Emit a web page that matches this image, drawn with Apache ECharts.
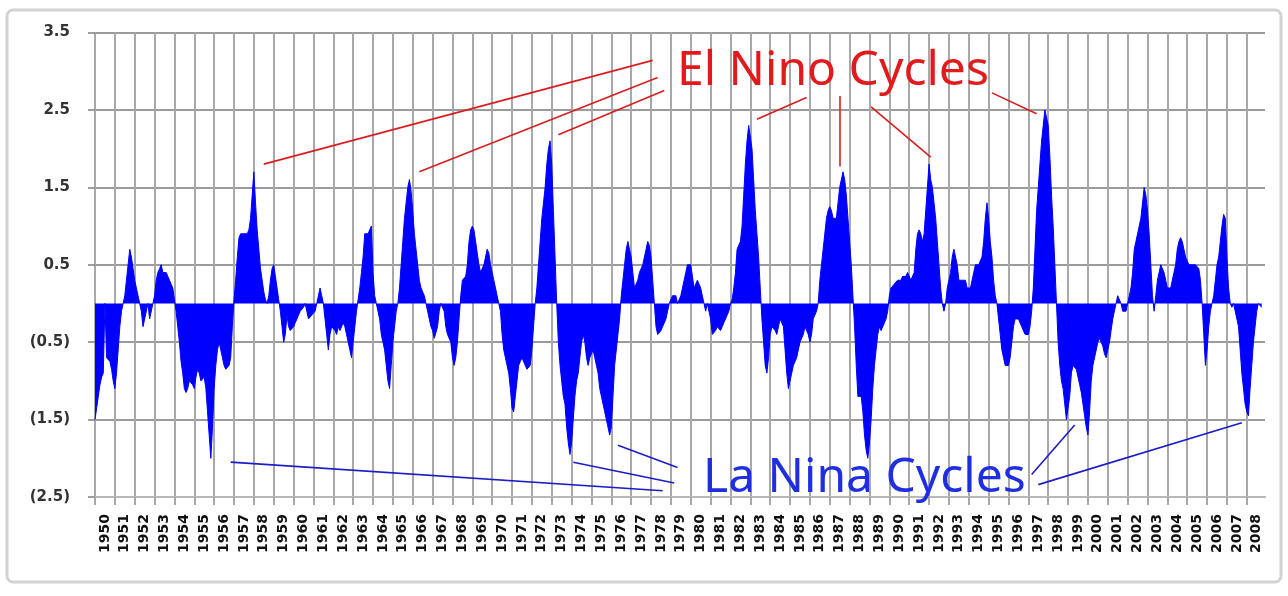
<!DOCTYPE html>
<html>
<head>
<meta charset="utf-8">
<script src="https://cdn.jsdelivr.net/npm/echarts@6/dist/echarts.min.js"></script>
<style>
html,body{margin:0;padding:0;background:#fff;}
#chart{width:1288px;height:596px;}
</style>
</head>
<body>
<div id="chart"></div>
<script>
// Monthly index values (one row per year, Jan..Dec)
const oni1950s = [
 -1.5,-1.35,-1.2,-1.05,-0.95,-0.9,0,-0.7,-0.7,-0.75,-0.85,-1.0,
 -1.1,-0.9,-0.6,-0.3,-0.1,0.0,0.1,0.3,0.5,0.7,0.6,0.45,
 0.3,0.2,0.1,0.0,-0.1,-0.3,-0.3,-0.1,0.0,-0.2,-0.2,0.0,
 0.1,0.3,0.4,0.45,0.5,0.4,0.4,0.4,0.4,0.3,0.3,0.2,
 0.05,-0.1,-0.3,-0.5,-0.75,-0.9,-1.1,-1.15,-1.1,-1.0,-1.0,-1.05,
 -1.1,-0.95,-0.85,-0.9,-1.0,-1.0,-0.95,-1.1,-1.4,-1.7,-2.0,-1.6,
 -1.1,-0.8,-0.6,-0.5,-0.6,-0.7,-0.8,-0.85,-0.85,-0.8,-0.7,-0.3,
 0.05,0.3,0.6,0.85,0.9,0.9,0.9,0.9,0.9,0.95,1.1,1.4,
 1.7,1.3,0.95,0.7,0.45,0.3,0.15,0.05,0.0,0.1,0.3,0.45,
 0.5,0.35,0.2,0.05,-0.1,-0.3,-0.5,-0.4,-0.15,-0.3,-0.35,-0.35
];
const oni1960s = [
 -0.3,-0.25,-0.2,-0.15,-0.1,-0.1,-0.05,0.0,-0.1,-0.2,-0.2,-0.15,
 -0.15,-0.1,0.0,0.1,0.2,0.1,0.0,-0.2,-0.4,-0.6,-0.4,-0.3,
 -0.3,-0.35,-0.4,-0.3,-0.35,-0.3,-0.25,-0.3,-0.4,-0.5,-0.6,-0.7,
 -0.5,-0.3,-0.1,0.05,0.2,0.4,0.6,0.9,0.9,0.9,0.95,1.0,
 0.4,0.1,0.0,-0.1,-0.2,-0.4,-0.5,-0.6,-0.8,-1.0,-1.1,-0.8,
 -0.5,-0.3,-0.1,0.0,0.2,0.5,0.8,1.1,1.3,1.5,1.6,1.45,
 1.2,0.9,0.7,0.5,0.3,0.2,0.2,0.1,0.0,-0.1,-0.2,-0.3,
 -0.35,-0.45,-0.45,-0.3,-0.1,0.0,0.0,-0.1,-0.3,-0.4,-0.4,-0.5,
 -0.7,-0.8,-0.7,-0.5,-0.2,0.1,0.3,0.3,0.35,0.5,0.8,0.95,
 1.0,0.95,0.8,0.65,0.5,0.4,0.4,0.5,0.6,0.7,0.65,0.5
];
const oni1970s = [
 0.4,0.3,0.2,0.1,0.0,-0.1,-0.4,-0.6,-0.7,-0.8,-0.9,-1.1,
 -1.35,-1.4,-1.2,-1.0,-0.8,-0.75,-0.7,-0.7,-0.8,-0.85,-0.85,-0.8,
 -0.6,-0.3,0.0,0.2,0.5,0.8,1.1,1.3,1.5,1.8,2.0,2.1,
 1.8,1.2,0.6,0.0,-0.5,-0.8,-1.0,-1.2,-1.3,-1.6,-1.8,-1.95,
 -1.8,-1.5,-1.2,-1.0,-0.9,-0.7,-0.5,-0.4,-0.5,-0.7,-0.8,-0.7,
 -0.65,-0.6,-0.7,-0.8,-0.9,-1.1,-1.2,-1.3,-1.4,-1.5,-1.6,-1.7,
 -1.6,-1.2,-0.8,-0.6,-0.4,-0.2,0.1,0.3,0.5,0.7,0.8,0.7,
 0.6,0.4,0.2,0.2,0.3,0.4,0.4,0.5,0.6,0.7,0.8,0.75,
 0.6,0.3,0.0,-0.3,-0.4,-0.4,-0.35,-0.3,-0.3,-0.2,-0.1,0.0,
 0.0,0.1,0.1,0.1,0.0,0.0,0.1,0.2,0.3,0.4,0.5,0.5
];
const oni1980s = [
 0.5,0.35,0.2,0.2,0.3,0.25,0.2,0.1,0.0,-0.1,0.0,0.0,
 -0.2,-0.4,-0.4,-0.35,-0.3,-0.3,-0.35,-0.3,-0.25,-0.2,-0.15,-0.1,
 0.0,0.05,0.2,0.4,0.7,0.7,0.8,1.0,1.4,1.8,2.1,2.3,
 2.3,2.0,1.6,1.2,0.9,0.6,0.2,-0.2,-0.5,-0.8,-0.9,-0.7,
 -0.4,-0.3,-0.3,-0.35,-0.4,-0.3,-0.2,-0.2,-0.3,-0.6,-0.9,-1.1,
 -1.0,-0.9,-0.8,-0.75,-0.7,-0.6,-0.5,-0.45,-0.4,-0.3,-0.3,-0.4,
 -0.5,-0.4,-0.2,-0.2,-0.1,0.0,0.3,0.5,0.7,0.9,1.1,1.2,
 1.25,1.2,1.1,1.1,1.1,1.3,1.5,1.6,1.7,1.6,1.4,1.1,
 0.8,0.5,0.1,-0.3,-0.8,-1.2,-1.2,-1.2,-1.4,-1.7,-1.9,-2.0,
 -1.8,-1.5,-1.1,-0.8,-0.6,-0.4,-0.3,-0.35,-0.3,-0.3,-0.2,-0.1
];
const oni1990s = [
 0.1,0.2,0.2,0.25,0.25,0.3,0.3,0.3,0.35,0.35,0.35,0.4,
 0.4,0.3,0.3,0.4,0.7,0.9,0.95,0.9,0.8,0.9,1.2,1.5,
 1.8,1.6,1.5,1.3,1.1,0.8,0.5,0.2,0.0,-0.1,0.0,0.2,
 0.3,0.4,0.6,0.7,0.7,0.5,0.3,0.3,0.3,0.3,0.3,0.2,
 0.2,0.2,0.3,0.4,0.5,0.5,0.5,0.5,0.6,0.8,1.1,1.3,
 1.1,0.8,0.6,0.3,0.1,0.0,-0.2,-0.4,-0.6,-0.7,-0.8,-0.8,
 -0.8,-0.7,-0.5,-0.3,-0.2,-0.2,-0.2,-0.2,-0.3,-0.3,-0.4,-0.4,
 -0.4,-0.3,-0.1,0.2,0.7,1.2,1.5,1.8,2.1,2.3,2.5,2.5,
 2.3,1.9,1.4,1.0,0.5,0.0,-0.5,-0.8,-1.0,-1.1,-1.3,-1.5,
 -1.5,-1.2,-0.9,-0.8,-0.8,-0.85,-0.95,-1.05,-1.15,-1.3,-1.45,-1.6
];
const oni2000s = [
 -1.7,-1.4,-1.0,-0.8,-0.7,-0.6,-0.5,-0.45,-0.5,-0.55,-0.65,-0.7,
 -0.7,-0.5,-0.35,-0.2,-0.1,0.0,0.1,0.1,0.0,-0.1,-0.1,-0.1,
 -0.1,0.1,0.2,0.4,0.7,0.8,0.9,1.0,1.1,1.3,1.5,1.4,
 1.2,0.9,0.5,0.1,-0.1,0.1,0.3,0.4,0.5,0.5,0.4,0.3,
 0.2,0.2,0.2,0.3,0.4,0.5,0.7,0.8,0.85,0.8,0.7,0.6,
 0.6,0.5,0.5,0.5,0.5,0.5,0.5,0.45,0.3,0.0,-0.4,-0.8,
 -0.6,-0.3,-0.1,0.0,0.1,0.3,0.5,0.6,0.8,1.0,1.15,1.1,
 0.6,0.2,0.0,-0.05,0.0,-0.1,-0.1,-0.3,-0.6,-0.9,-1.1,-1.3,
 -1.4,-1.45,-1.1,-0.8,-0.5,-0.3,-0.1,0.0,0.0,-0.05
];
const firstYear = 1950, lastYear = 2008;

// Annotation pointers: [monthIndex, value] start -> end
const elNinoPointers = [
 [[337,3.14],[102,1.80]],
 [[340,2.92],[196,1.70]],
 [[344,2.75],[280,2.18]],
 [[430,2.66],[400,2.38]],
 [[450,2.68],[450,1.77]],
 [[469,2.54],[505,1.89]],
 [[542,2.72],[569,2.45]]
];
const laNinaPointers = [
 [[82,-2.05],[343,-2.42]],
 [[289,-2.05],[350,-2.32]],
 [[316,-1.83],[352,-2.12]],
 [[592,-1.57],[566,-2.21]],
 [[693,-1.54],[570,-2.34]]
];

const months = [];
for (let y = firstYear; y <= lastYear; y++) {
  for (let m = 1; m <= 12; m++) months.push(y + '-' + (m < 10 ? '0' + m : m));
}
const values = [].concat(oni1950s, oni1960s, oni1970s, oni1980s, oni1990s, oni2000s);

function ptr(list, color) {
  return list.map(p => [
    {coord: [months[p[0][0]], p[0][1]], lineStyle: {color: color, width: 1.6, type: 'solid'}},
    {coord: [months[p[1][0]], p[1][1]]}
  ]);
}

const chart = echarts.init(document.getElementById('chart'), null, {renderer: 'canvas'});
chart.setOption({
  animation: false,
  backgroundColor: '#ffffff',
  grid: {left: 95, right: 23, top: 32.5, bottom: 99, containLabel: false},
  xAxis: {
    type: 'category',
    data: months,
    boundaryGap: false,
    axisLine: {show: true, onZero: false, lineStyle: {color: '#b8b8b8', width: 2}},
    axisTick: {show: true, interval: (i) => i % 12 === 0, length: 8, lineStyle: {color: '#a8a8a8', width: 2}},
    axisLabel: {
      interval: (i) => i % 12 === 6,
      rotate: 90,
      formatter: (v) => v.slice(0, 4),
      fontFamily: 'DejaVu Sans', fontWeight: 'bold', fontSize: 14, color: '#111', margin: 17
    },
    splitLine: {show: true, interval: (i) => i % 12 === 0, lineStyle: {color: '#a8a8a8', width: 2}}
  },
  yAxis: {
    type: 'value', min: -2.5, max: 3.5, interval: 1,
    axisLine: {show: false},
    axisTick: {show: true, length: 7, lineStyle: {color: '#808080', width: 1.5}},
    axisLabel: {
      formatter: (v) => v < 0 ? '(' + Math.abs(v).toFixed(1) + ')' : v.toFixed(1),
      fontFamily: 'DejaVu Sans', fontWeight: 'bold', fontSize: 15, color: '#333', margin: 25
    },
    splitLine: {show: true, lineStyle: {color: '#7a7a7a', width: 1.5}}
  },
  series: [{
    type: 'line',
    data: values,
    symbol: 'none',
    showSymbol: false,
    lineStyle: {color: '#0000ff', width: 1},
    itemStyle: {color: '#0000ff'},
    areaStyle: {color: '#0000ff', opacity: 1},
    markLine: {
      silent: true, animation: false, symbol: ['none', 'none'],
      label: {show: false},
      data: ptr(elNinoPointers, '#d81e1e').concat(ptr(laNinaPointers, '#1c1cc8'))
    }
  }],
  graphic: [
    {type: 'rect', shape: {x: 7, y: 10, width: 1274, height: 572, r: 6},
     style: {fill: 'none', stroke: '#d2d2d2', lineWidth: 3}, z: 0},
    {type: 'text', x: 677, y: 71, z: 10,
     style: {text: 'El Nino Cycles', fontFamily: '"Noto Sans"', fontSize: 48, fill: '#e31a1c', align: 'left', verticalAlign: 'middle'}},
    {type: 'text', x: 703, y: 478, z: 10,
     style: {text: 'La Nina Cycles', fontFamily: '"Noto Sans"', fontSize: 48, fill: '#1f2ee0', align: 'left', verticalAlign: 'middle'}}
  ]
});
</script>
</body>
</html>
